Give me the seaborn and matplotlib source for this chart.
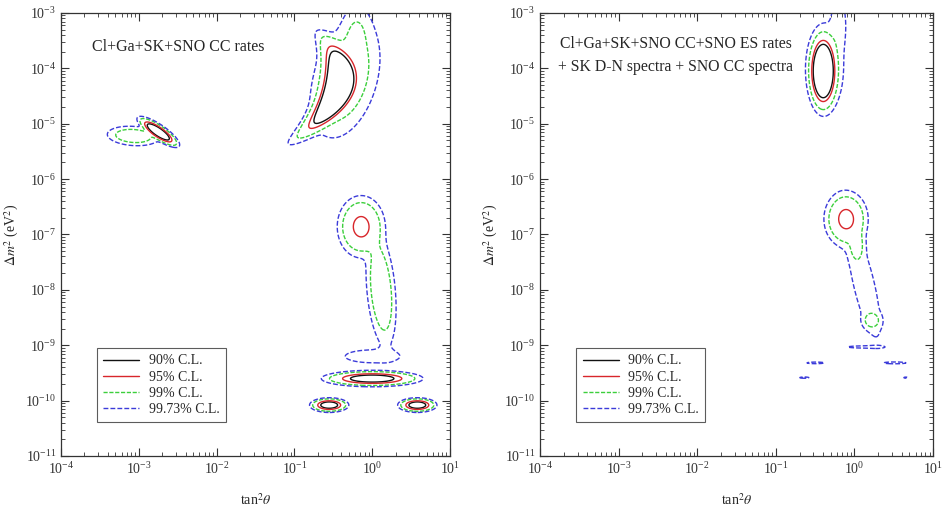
import numpy as np
import matplotlib
matplotlib.use("Agg")
import matplotlib.pyplot as plt
from matplotlib.lines import Line2D
from matplotlib.ticker import LogLocator, NullFormatter
import seaborn as sns

# Confidence levels (2 d.o.f.) and their line styles
cl_labels = ["90% C.L.", "95% C.L.", "99% C.L.", "99.73% C.L."]
dchi2_levels = [4.61, 5.99, 9.21, 11.83]
cl_colors = ["#111111", "#d8262b", "#3ccf3c", "#3b3bd9"]
cl_dashes = [None, None, (3.0, 1.2), (3.5, 1.5)]

# Allowed islands, rates-only fit: centre (tan^2 theta, dm^2), widths in decades,
# shear / bend of the island axis, chi2 offset of the island minimum
left_tan2 = [0.37, 0.45, 0.63, 1.78e-3, 8.5e-4, 0.72, 1.30, 1.0, 1.0, 0.28, 3.8]
left_dm2 = [4.5e-5, 6.3e-5, 5.0e-4, 7.1e-6, 6.0e-6, 1.38e-7, 1.0e-8, 6.3e-10, 2.5e-10, 8.3e-11, 8.3e-11]
left_wx = [0.08, 0.19, 0.10, 0.05, 0.15, 0.12, 0.08, 0.30, 0.22, 0.085, 0.085]
left_wy = [0.30, 0.48, 0.25, 0.09, 0.08, 0.22, 0.45, 0.10, 0.05, 0.045, 0.045]
left_tilt = [0.18, 0.15, 0.0, -0.8, -0.3, 0.0, -0.06, 0.0, 0.0, 0.0, 0.0]
left_bend = [-0.40, 0.0, 0.0, 0.0, 0.0, 0.0, 0.0, 0.0, 0.0, 0.0, 0.0]
left_chi2min = [0.0, 7.0, 9.6, 2.0, 7.0, 5.3, 6.6, 10.5, 3.0, 3.0, 3.0]

# Allowed islands, global fit with SNO NC and spectra
right_tan2 = [0.40, 0.42, 0.63, 0.78, 1.07, 1.32, 1.66, 1.26, 0.32, 3.5, 0.23, 4.5]
right_dm2 = [8.9e-5, 1.0e-4, 6.3e-4, 1.9e-7, 6.3e-8, 1.26e-8, 2.8e-9, 9.3e-10, 4.8e-10, 4.8e-10, 2.6e-10, 2.6e-10]
right_wx = [0.058, 0.12, 0.06, 0.11, 0.05, 0.10, 0.06, 0.20, 0.15, 0.15, 0.10, 0.05]
right_wy = [0.22, 0.40, 0.30, 0.20, 0.15, 0.70, 0.08, 0.02, 0.02, 0.02, 0.02, 0.02]
right_tilt = [0.0, 0.0, 0.0, 0.0, 0.0, -0.16, 0.0, 0.0, 0.0, 0.0, 0.0, 0.0]
right_bend = [0.0] * 12
right_chi2min = [0.0, 8.0, 9.8, 5.3, 8.0, 10.0, 8.0, 11.0, 11.3, 11.3, 11.5, 11.6]

x_range = (1e-4, 1e1)
y_range = (1e-11, 1e-3)


def chi2_surface(tan2, dm2, wx, wy, tilt, bend, chi2min):
    lx = np.linspace(np.log10(x_range[0]), np.log10(x_range[1]), 1000)
    ly = np.linspace(np.log10(y_range[0]), np.log10(y_range[1]), 1600)
    X, Y = np.meshgrid(lx, ly)
    terms = []
    for t, d, sx, sy, sh, bd, off in zip(tan2, dm2, wx, wy, tilt, bend, chi2min):
        cx, cy = np.log10(t), np.log10(d)
        dy = Y - cy
        u = (X - cx - sh * dy - bd * dy ** 2) / sx
        v = dy / sy
        terms.append(off + u ** 2 + v ** 2)
    terms = np.array(terms)
    m = terms.min(axis=0)
    chi = m - 2.0 * np.log(np.exp(-(terms - m) / 2.0).sum(axis=0))
    return 10 ** X, 10 ** Y, chi


sns.set_theme(style="ticks")
plt.rcParams["font.family"] = ["Liberation Serif", "DejaVu Serif"]
plt.rcParams["mathtext.fontset"] = "stix"
plt.rcParams["xtick.direction"] = "in"
plt.rcParams["ytick.direction"] = "in"

fig = plt.figure(figsize=(9.43, 5.17), dpi=100)
ax_l = fig.add_axes([0.0647, 0.118, 0.4125, 0.857])
ax_r = fig.add_axes([0.5727, 0.118, 0.4168, 0.857])

panels = [
    (ax_l, (left_tan2, left_dm2, left_wx, left_wy, left_tilt, left_bend, left_chi2min)),
    (ax_r, (right_tan2, right_dm2, right_wx, right_wy, right_tilt, right_bend, right_chi2min)),
]

for ax, pars in panels:
    gx_, gy_, chi = chi2_surface(*pars)
    for lev, col, dash in zip(dchi2_levels, cl_colors, cl_dashes):
        cs = ax.contour(gx_, gy_, chi, levels=[lev], colors=[col], linewidths=1.0)
        if dash is not None:
            cs.set_linestyle([(0, dash)])
    ax.set_xscale("log")
    ax.set_yscale("log")
    ax.set_xlim(*x_range)
    ax.set_ylim(*y_range)
    ax.xaxis.set_major_locator(LogLocator(base=10, numticks=20))
    ax.yaxis.set_major_locator(LogLocator(base=10, numticks=20))
    ax.xaxis.set_minor_locator(LogLocator(base=10, subs=np.arange(2, 10), numticks=100))
    ax.yaxis.set_minor_locator(LogLocator(base=10, subs=np.arange(2, 10), numticks=100))
    ax.xaxis.set_minor_formatter(NullFormatter())
    ax.yaxis.set_minor_formatter(NullFormatter())
    ax.tick_params(which="both", top=True, right=True, direction="in", labelsize=10, colors="#333333")
    ax.tick_params(which="major", length=6, width=0.8)
    ax.tick_params(which="minor", length=3, width=0.6)
    for sp in ax.spines.values():
        sp.set_linewidth(0.9)
        sp.set_color("#333333")
    ax.set_xlabel(r"tan$^2\theta$", fontsize=10, labelpad=11)
    ax.set_ylabel(r"$\Delta m^2$ (eV$^2$)", fontsize=10, labelpad=3)

    handles = []
    for lab, col, dash in zip(cl_labels, cl_colors, cl_dashes):
        ln = Line2D([], [], color=col, lw=1.0, label=lab)
        if dash is not None:
            ln.set_dashes(dash)
        handles.append(ln)
    leg = ax.legend(handles=handles, loc="lower left", bbox_to_anchor=(0.0925, 0.077),
                    borderaxespad=0.0, fontsize=10, frameon=True, fancybox=False,
                    edgecolor="#333333", handlelength=2.6, handletextpad=0.7,
                    borderpad=0.45, labelspacing=0.22)
    leg.get_frame().set_linewidth(0.8)

ax_l.text(0.08, 0.923, "Cl+Ga+SK+SNO CC rates", transform=ax_l.transAxes,
          fontsize=11.5, va="center", ha="left")
ax_r.text(0.05, 0.930, "Cl+Ga+SK+SNO CC+SNO ES rates", transform=ax_r.transAxes,
          fontsize=11.3, va="center", ha="left")
ax_r.text(0.045, 0.878, "+ SK D-N spectra + SNO CC spectra", transform=ax_r.transAxes,
          fontsize=11.3, va="center", ha="left")

fig.savefig("out.png", dpi=100, facecolor="white")
